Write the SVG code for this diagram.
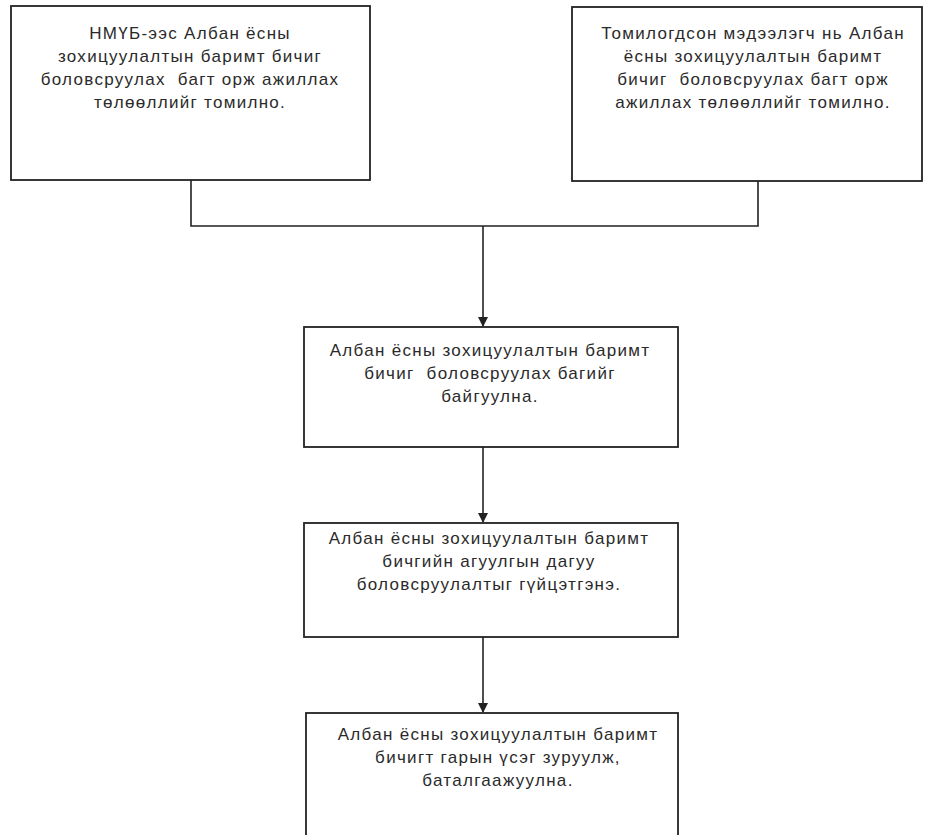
<svg xmlns="http://www.w3.org/2000/svg" width="926" height="835" viewBox="0 0 926 835">
<defs>
<style>
.box{fill:#fff;stroke:#222;stroke-width:1.8}
.t{font-family:"Liberation Sans",Arial,sans-serif;font-size:17px;letter-spacing:1.3px;fill:#2a2a2a;text-anchor:middle}
.c{fill:none;stroke:#222;stroke-width:1.6}
</style>
<marker id="ah" viewBox="0 0 10 10" refX="9" refY="5" markerWidth="10" markerHeight="10" markerUnits="userSpaceOnUse" orient="auto">
<path d="M0,0 L10,5 L0,10 Z" fill="#222"/>
</marker>
</defs>
<rect width="926" height="835" fill="#fff"/>
<g id="connectors">
<path class="c" d="M191,180 V226 H758 V181"/>
<path class="c" d="M483,226 V326" marker-end="url(#ah)"/>
<path class="c" d="M483,447 V522" marker-end="url(#ah)"/>
<path class="c" d="M483,637 V712" marker-end="url(#ah)"/>
</g>
<g id="node1">
<rect class="box" x="11" y="6" width="359" height="174"/>
<text class="t" x="190" y="39">НМҮБ-ээс Албан ёсны</text>
<text class="t" x="190" y="62">зохицуулалтын баримт бичиг</text>
<text class="t" x="190" y="85" xml:space="preserve">боловсруулах  багт орж ажиллах</text>
<text class="t" x="190" y="108">төлөөллийг томилно.</text>
</g>
<g id="node2">
<rect class="box" x="572" y="7" width="350" height="174"/>
<text class="t" x="753" y="39">Томилогдсон мэдээлэгч нь Албан</text>
<text class="t" x="753" y="62">ёсны зохицуулалтын баримт</text>
<text class="t" x="753" y="85" xml:space="preserve">бичиг  боловсруулах багт орж</text>
<text class="t" x="753" y="108">ажиллах төлөөллийг томилно.</text>
</g>
<g id="node3">
<rect class="box" x="304" y="327" width="374" height="120"/>
<text class="t" x="490" y="356">Албан ёсны зохицуулалтын баримт</text>
<text class="t" x="490" y="379" xml:space="preserve">бичиг  боловсруулах багийг</text>
<text class="t" x="490" y="402">байгуулна.</text>
</g>
<g id="node4">
<rect class="box" x="304" y="523" width="374" height="114"/>
<text class="t" x="489" y="544">Албан ёсны зохицуулалтын баримт</text>
<text class="t" x="489" y="567">бичгийн агуулгын дагуу</text>
<text class="t" x="489" y="590">боловсруулалтыг гүйцэтгэнэ.</text>
</g>
<g id="node5">
<rect class="box" x="306" y="713" width="372" height="140"/>
<text class="t" x="498" y="740">Албан ёсны зохицуулалтын баримт</text>
<text class="t" x="498" y="763">бичигт гарын үсэг зуруулж,</text>
<text class="t" x="498" y="786">баталгаажуулна.</text>
</g>
</svg>
